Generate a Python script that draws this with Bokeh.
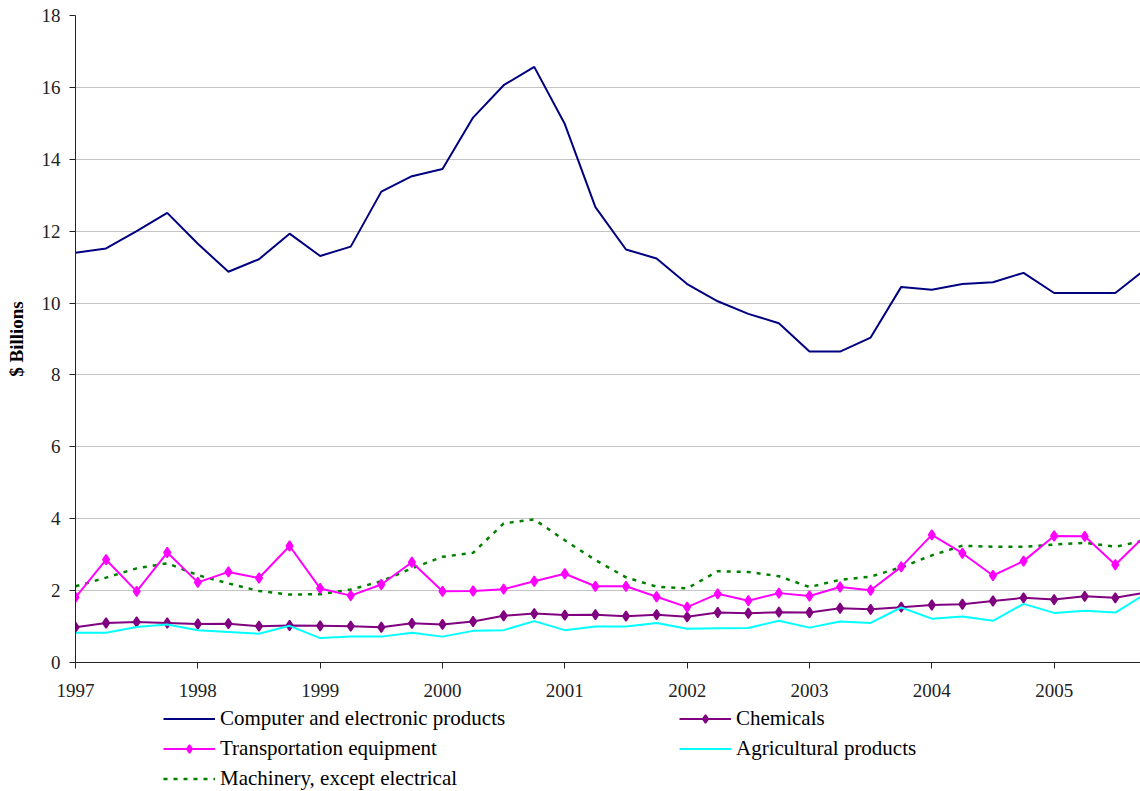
from bokeh.plotting import figure
from bokeh.layouts import column
from bokeh.models import Range1d, FixedTicker, Legend, LegendItem
from bokeh.embed import file_html
from bokeh.resources import INLINE

quarters = [1997.0, 1997.25, 1997.5, 1997.75, 1998.0, 1998.25, 1998.5, 1998.75,
            1999.0, 1999.25, 1999.5, 1999.75, 2000.0, 2000.25, 2000.5, 2000.75,
            2001.0, 2001.25, 2001.5, 2001.75, 2002.0, 2002.25, 2002.5, 2002.75,
            2003.0, 2003.25, 2003.5, 2003.75, 2004.0, 2004.25, 2004.5, 2004.75,
            2005.0, 2005.25, 2005.5, 2005.75]

computer = [11.40, 11.52, 12.00, 12.51, 11.65, 10.87, 11.22, 11.93,
            11.31, 11.57, 13.10, 13.53, 13.73, 15.16, 16.06, 16.57,
            14.98, 12.67, 11.49, 11.24, 10.53, 10.05, 9.70, 9.44,
            8.65, 8.65, 9.04, 10.45, 10.37, 10.53, 10.58, 10.84,
            10.28, 10.28, 10.28, 10.95]

chemicals = [0.98, 1.10, 1.13, 1.10, 1.07, 1.08, 1.01, 1.03,
             1.02, 1.01, 0.98, 1.09, 1.06, 1.14, 1.30, 1.36,
             1.32, 1.33, 1.29, 1.33, 1.27, 1.39, 1.37, 1.40,
             1.39, 1.51, 1.48, 1.54, 1.60, 1.62, 1.71, 1.80,
             1.75, 1.84, 1.80, 1.95]

transport = [1.81, 2.86, 1.98, 3.06, 2.23, 2.52, 2.35, 3.24,
             2.06, 1.86, 2.17, 2.79, 1.98, 1.99, 2.04, 2.26,
             2.47, 2.12, 2.12, 1.83, 1.54, 1.91, 1.72, 1.93,
             1.85, 2.10, 2.01, 2.66, 3.55, 3.04, 2.42, 2.82,
             3.52, 3.51, 2.72, 3.55]

agricultural = [0.83, 0.83, 0.99, 1.06, 0.90, 0.85, 0.80, 1.02,
                0.68, 0.72, 0.72, 0.83, 0.72, 0.88, 0.90, 1.15,
                0.90, 1.00, 1.00, 1.10, 0.94, 0.95, 0.96, 1.16,
                0.97, 1.14, 1.10, 1.53, 1.22, 1.28, 1.16, 1.63,
                1.38, 1.44, 1.39, 1.91]

machinery = [2.12, 2.36, 2.62, 2.76, 2.43, 2.20, 1.99, 1.89,
             1.90, 2.03, 2.26, 2.62, 2.94, 3.05, 3.87, 3.98,
             3.40, 2.85, 2.37, 2.11, 2.06, 2.54, 2.52, 2.40,
             2.10, 2.30, 2.39, 2.65, 2.98, 3.25, 3.22, 3.22,
             3.28, 3.33, 3.22, 3.40]

year_ticks = [1997, 1998, 1999, 2000, 2001, 2002, 2003, 2004, 2005]
value_ticks = [0, 2, 4, 6, 8, 10, 12, 14, 16, 18]

FONT = "Liberation Serif"

STYLES = {
    "computer": dict(line_color="#000080", line_width=2),
    "machinery": dict(line_color="#008000", line_width=2.5, line_dash="4 6"),
    "chemicals": dict(line_color="#800080", line_width=2),
    "transport": dict(line_color="#FF00FF", line_width=2),
    "agricultural": dict(line_color="#00FFFF", line_width=2),
}
MARK = dict(marker="diamond", size=10, line_width=1.5)

# ---------------- main chart ----------------
p = figure(width=1140, height=705,
           x_range=Range1d(1997, 2005.706), y_range=Range1d(0, 18),
           output_backend="svg", toolbar_location=None,
           min_border_left=75, min_border_right=0,
           min_border_top=15, min_border_bottom=43)
p.outline_line_color = None
p.background_fill_color = "white"
p.border_fill_color = "white"

p.line(quarters, computer, **STYLES["computer"])
p.line(quarters, machinery, **STYLES["machinery"])
p.line(quarters, chemicals, **STYLES["chemicals"])
p.scatter(quarters, chemicals, fill_color="#800080", line_color="#800080", **MARK)
p.line(quarters, transport, **STYLES["transport"])
p.scatter(quarters, transport, fill_color="#FF00FF", line_color="#FF00FF", **MARK)
p.line(quarters, agricultural, **STYLES["agricultural"])

p.xaxis.ticker = FixedTicker(ticks=year_ticks)
p.yaxis.ticker = FixedTicker(ticks=value_ticks)
for ax in (p.xaxis, p.yaxis):
    ax.minor_tick_line_color = None
    ax.major_tick_in = 0
    ax.major_tick_out = 6
    ax.axis_line_color = "#222222"
    ax.major_tick_line_color = "#222222"
    ax.major_label_text_font = FONT
    ax.major_label_text_font_size = "19px"
    ax.major_label_text_color = "#222222"
p.xaxis.major_label_standoff = 15
p.yaxis.major_label_standoff = 9
p.yaxis.axis_label = "$ Billions"
p.yaxis.axis_label_text_font = FONT
p.yaxis.axis_label_text_font_style = "bold"
p.yaxis.axis_label_text_font_size = "19px"
p.yaxis.axis_label_text_color = "black"
p.yaxis.axis_label_standoff = 12

p.xgrid.visible = False
p.ygrid.grid_line_color = "#c4c4c4"
p.ygrid.grid_line_width = 1

# ---------------- legend strip (samples only, nothing plotted) ----------------
lf = figure(width=1140, height=86, x_range=Range1d(0, 1), y_range=Range1d(0, 1),
            output_backend="svg", toolbar_location=None,
            x_axis_type=None, y_axis_type=None,
            min_border_left=0, min_border_right=0,
            min_border_top=0, min_border_bottom=0)
lf.outline_line_color = None
lf.xgrid.visible = False
lf.ygrid.visible = False
lf.background_fill_color = "white"
lf.border_fill_color = "white"

nan = [float("nan")]
g_comp = lf.line(nan, nan, **STYLES["computer"])
g_mach = lf.line(nan, nan, **STYLES["machinery"])
g_chem_l = lf.line(nan, nan, **STYLES["chemicals"])
g_chem_m = lf.scatter(nan, nan, fill_color="#800080", line_color="#800080", **MARK)
g_tr_l = lf.line(nan, nan, **STYLES["transport"])
g_tr_m = lf.scatter(nan, nan, fill_color="#FF00FF", line_color="#FF00FF", **MARK)
g_agri = lf.line(nan, nan, **STYLES["agricultural"])


def style_legend(lg):
    lg.background_fill_alpha = 0
    lg.border_line_alpha = 0
    lg.padding = 0
    lg.margin = 0
    lg.spacing = 5
    lg.glyph_height = 21
    lg.glyph_width = 52
    lg.label_height = 21
    lg.label_standoff = 5
    lg.label_text_font = FONT
    lg.label_text_font_size = "21px"
    lg.label_text_color = "black"


legend1 = Legend(items=[
    LegendItem(label="Computer and electronic products", renderers=[g_comp]),
    LegendItem(label="Transportation equipment", renderers=[g_tr_l, g_tr_m]),
    LegendItem(label="Machinery, except electrical", renderers=[g_mach]),
], location=(88, 0))
legend2 = Legend(items=[
    LegendItem(label="Chemicals", renderers=[g_chem_l, g_chem_m]),
    LegendItem(label="Agricultural products", renderers=[g_agri]),
], location=(604, 30))
style_legend(legend1)
style_legend(legend2)
lf.add_layout(legend1)
lf.add_layout(legend2)

layout = column(p, lf, spacing=0)
open("out.html", "w").write(file_html(layout, INLINE))
